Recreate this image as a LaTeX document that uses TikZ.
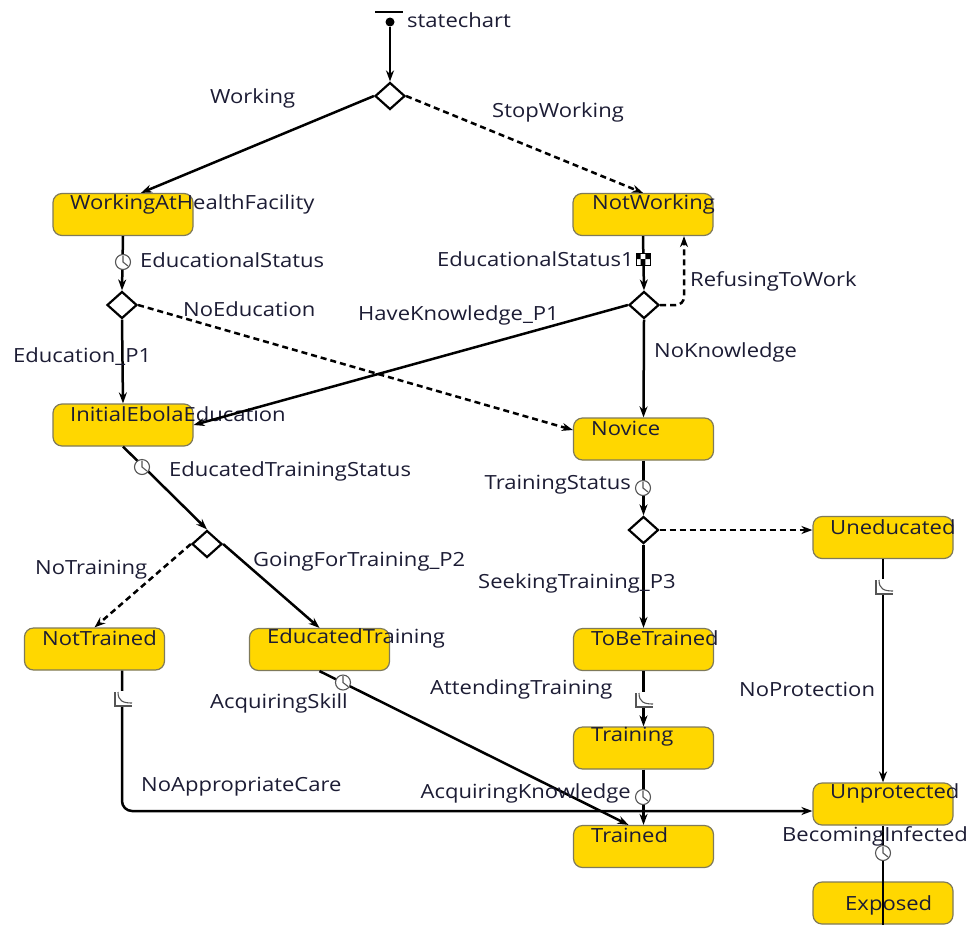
\documentclass[tikz,border=0pt]{standalone}
\usepackage{fontspec}
\setmainfont{Open Sans}[FakeStretch=1.13]
\usetikzlibrary{arrows.meta,shapes.geometric}
\definecolor{stfill}{HTML}{FFD700}
\definecolor{stdraw}{HTML}{7F7A5A}
\definecolor{txt}{HTML}{1C1C34}
\definecolor{icon}{HTML}{555555}
\begin{document}
\begin{tikzpicture}[x=1pt,y=-1pt,
  every node/.style={font=\fontsize{19.5}{22}\selectfont, text=txt, inner sep=0pt},
  state/.style={draw=stdraw, fill=stfill, rounded corners=9pt, minimum width=140pt, minimum height=42pt, line width=1.2pt},
  lbl/.style={anchor=west},
  choice/.style={diamond, draw=black, fill=white, line width=2.2pt, minimum width=30pt, minimum height=27pt, inner sep=0pt},
  tr/.style={line width=2.5pt, -{Stealth[length=11pt,width=8pt]}},
  trdash/.style={tr, dash pattern=on 6pt off 4pt},
  clockicon/.pic={\draw[draw=icon, fill=white, line width=1.1pt] (0,0) circle (7.5pt);
                  \draw[icon, line width=1.1pt] (0,-6.5) -- (0,0) -- (5,4);},
  rateicon/.pic={\fill[white] (-9,-8) rectangle (11,8);
                 \draw[icon, line width=1.1pt] (-7,-7) -- (-7,7) -- (10,7);
                 \draw[icon, line width=1.1pt] (-4,-7) .. controls (-4,2) and (1,4) .. (10,4);},
  msgicon/.pic={\draw[fill=white, draw=black, line width=0.9pt] (-7,-6) rectangle (7,6);
                \fill[black] (-7,-6) rectangle (-2.3,0) (2.3,-6) rectangle (7,0) (-2.3,0) rectangle (2.3,6);}
]
\useasboundingbox (0,0) rectangle (979,924);

% initial pointer
\draw[line width=2.2pt] (375,12) -- (403,12);
\node[circle, fill=black, minimum size=9pt] (init) at (390,22) {};
\node[lbl] (tsc) at (407,20) {statechart};

% states
\node[state] (wahf) at (123,214.5) {};
\node[lbl] (twahf) at (70,204) {WorkingAtHealthFacility};
\node[state] (nw) at (643,214.5) {};
\node[lbl] (tnw) at (592,204) {NotWorking};
\node[state] (iee) at (123,425) {};
\node[lbl] (tiee) at (70,414) {InitialEbolaEducation};
\node[state] (nov) at (643.5,439) {};
\node[lbl] (tnov) at (591,428) {Novice};
\node[state] (uned) at (883,537.5) {};
\node[lbl] (tuned) at (830,527) {Uneducated};
\node[state] (nt) at (94.5,649) {};
\node[lbl] (tnt) at (42,638) {NotTrained};
\node[state] (et) at (319.5,649.5) {};
\node[lbl] (tet) at (267,638) {EducatedTraining};
\node[state] (tbt) at (643.5,649.5) {};
\node[lbl] (ttbt) at (591,638) {ToBeTrained};
\node[state] (trn) at (643.5,748) {};
\node[lbl] (ttrn) at (591,737) {Training};
\node[state] (trd) at (643.5,846.5) {};
\node[lbl] (ttrd) at (591,835) {Trained};
\node[state] (unp) at (883,804) {};
\node[lbl] (tunp) at (830,793) {Unprotected};
\node[state] (exp) at (883,903) {};
\node[lbl] (texp) at (845,905) {Exposed};

% choices
\node[choice] (d0) at (390,96) {};
\node[choice] (d1) at (122,305) {};
\node[choice] (d2) at (644,305) {};
\node[choice] (d3) at (207,544) {};
\node[choice] (d4) at (643.5,530) {};

% transitions
\draw[tr] (init) -- (d0.north);
\draw[tr] (d0.west) -- ([xshift=18pt]wahf.north);
\draw[trdash] (d0.east) -- (nw.north);
\draw[tr] (wahf.south) -- (d1.north);
\draw[trdash] (d1.east) -- ([yshift=9pt]nov.west);
\draw[tr] (d1.south) -- (iee.north);
\draw[tr] (nw.south) -- (d2.north);
\draw[trdash, rounded corners=8pt] (d2.east) -| ([xshift=41pt]nw.south);
\draw[tr] (d2.west) -- (iee.east);
\draw[tr] (d2.south) -- (nov.north);
\draw[tr] (iee.south) -- (d3.north);
\draw[trdash] (d3.west) -- (nt.north);
\draw[tr] (d3.east) -- (et.north);
\draw[tr] (nov.south) -- (d4.north);
\draw[trdash] (d4.east) -- (d4.east -| uned.west);
\draw[tr] (d4.south) -- (tbt.north);
\draw[tr] (et.south) -- ([xshift=-15pt]trd.north);
\draw[tr] (tbt.south) -- (trn.north);
\draw[tr] (trn.south) -- (trd.north);
\draw[tr, rounded corners=10pt] ([xshift=27.5pt]nt.south) |- ([yshift=-7pt]unp.west);
\draw[tr] (uned.south) -- (unp.north);
\draw[line width=2.5pt] (unp.south) -- (exp.south);

% icons
\pic at (123,262) {clockicon};
\pic at (643,259) {msgicon};
\pic at (142,467) {clockicon};
\pic at (643,488) {clockicon};
\pic at (343,682.5) {clockicon};
\pic at (643,700) {rateicon};
\pic at (643,797) {clockicon};
\pic at (122,699) {rateicon};
\pic at (883,587) {rateicon};
\pic at (883,853) {clockicon};

% transition labels
\node[lbl] (lw) at (210,98) {Working};
\node[lbl] (lsw) at (492,112) {StopWorking};
\node[lbl] (les) at (140,260) {EducationalStatus};
\node[anchor=east] (les1) at (634,259) {EducationalStatus1};
\node[lbl] (lref) at (690,281) {RefusingToWork};
\node[lbl] (lnoe) at (183,309) {NoEducation};
\node[lbl] (lhk) at (358,315) {HaveKnowledge\_P1};
\node[lbl] (lep) at (13,357) {Education\_P1};
\node[lbl] (lnk) at (654,352) {NoKnowledge};
\node[lbl] (lets) at (169,471) {EducatedTrainingStatus};
\node[anchor=east] (lts) at (631,485) {TrainingStatus};
\node[lbl] (lnotr) at (35,570) {NoTraining};
\node[lbl] (lgft) at (253,562) {GoingForTraining\_P2};
\node[lbl] (lstp) at (478,583) {SeekingTraining\_P3};
\node[lbl] (lat) at (430,689) {AttendingTraining};
\node[lbl] (las) at (210,703) {AcquiringSkill};
\node[lbl] (lnp) at (739,689) {NoProtection};
\node[lbl] (lnac) at (141,787) {NoAppropriateCare};
\node[anchor=east] (lak) at (631,793) {AcquiringKnowledge};
\node[lbl] (lbi) at (782,836) {BecomingInfected};
\end{tikzpicture}
\end{document}
